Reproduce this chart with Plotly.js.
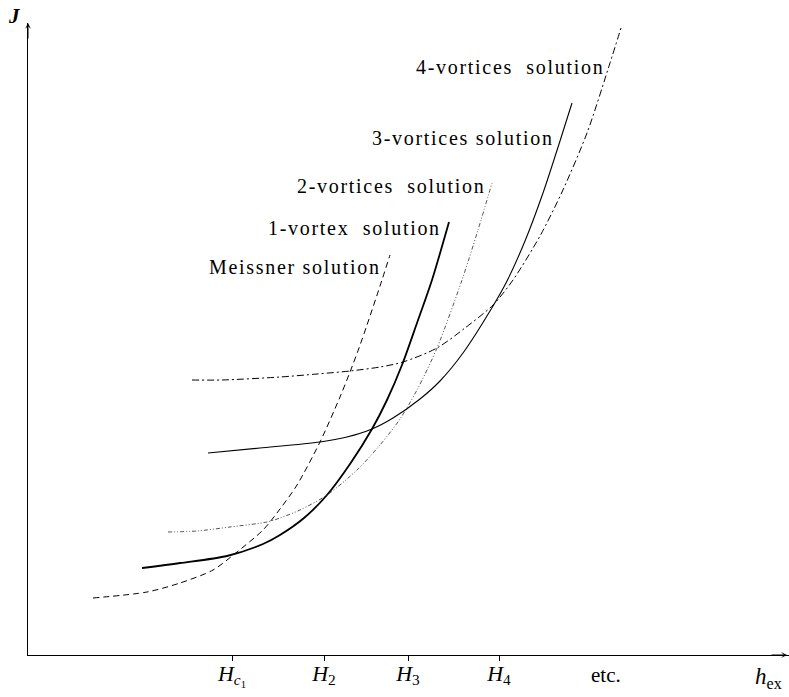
<!DOCTYPE html>
<html>
<head>
<meta charset="utf-8">
<script src="https://cdn.plot.ly/plotly-3.0.1.min.js"></script>
<style>html,body{margin:0;padding:0;background:#fff;}#chart{width:789px;height:697px;}</style>
</head>
<body>
<div id="chart"></div>
<script>
// Schematic values (h_ex on the horizontal axis, J on the vertical axis)
const meissnerH = [93,147,180,213,237,263,280,297,320,340,350,359,367,380,390];
const meissnerJ = [57,63,72,85,103,125,146,170,213,258,283,307,330,369,400];

const vortex1H = [142,180,227,263,280,304,327,350,372,387,402,417,432,449];
const vortex1J = [87,92,99,111,120,137,160,191,226,255,290,332,375,433];

const vortex2H = [168,197,230,267,280,300,327,357,380,400,417,437,462,478,492];
const vortex2J = [123,124,128,133,137,145,160,185,210,236,265,307,375,425,472];

const vortex3H = [208,260,320,347,372,393,420,440,463,493,507,525,543,560,572];
const vortex3J = [202,207,213,218,226,237,256,274,302,349,374,414,462,514,552];

const vortex4H = [192,222,280,317,350,380,403,437,465,493,513,540,562,587,610,621];
const vortex4J = [275,275,278,281,284,288,293,307,327,350,375,419,463,522,592,627];

const tickPositions = [232,324,408,499];
const tickLabels = ['<i>H</i><sub><i>c</i><sub>1</sub></sub>','<i>H</i><sub>2</sub>','<i>H</i><sub>3</sub>','<i>H</i><sub>4</sub>'];

const curveLabels = ['Meissner solution','1-vortex  solution','2-vortices  solution','3-vortices solution','4-vortices  solution'];
const curveLabelH = [383,443,487,556,606];
const curveLabelJ = [388,427,469,517,588];

const serif = 'Liberation Serif, Times New Roman, serif';

const traces = [
  {x: meissnerH, y: meissnerJ, mode:'lines', line:{color:'#000', width:1, dash:'6px,4px', shape:'spline', smoothing:0.8}},
  {x: vortex1H, y: vortex1J, mode:'lines', line:{color:'#000', width:1.8, shape:'spline', smoothing:0.8}},
  {x: vortex2H, y: vortex2J, mode:'lines', line:{color:'#555', width:1, dash:'4px,2px,1px,2px,1px,2px', shape:'spline', smoothing:0.8}},
  {x: vortex3H, y: vortex3J, mode:'lines', line:{color:'#000', width:1.1, shape:'spline', smoothing:0.8}},
  {x: vortex4H, y: vortex4J, mode:'lines', line:{color:'#000', width:1, dash:'7px,3px,2px,3px', shape:'spline', smoothing:0.8}}
];

const annotations = curveLabels.map((t,i)=>({
  x: curveLabelH[i], y: curveLabelJ[i], xref:'x', yref:'y',
  text: '<span style="letter-spacing:1.7px">'+t+'</span>',
  showarrow:false, xanchor:'right', yanchor:'middle',
  font:{family:serif, size:20, color:'#000'}
}));

// plot area: x 28..789 px, y 23..655 px
annotations.push(
  {x:787, y:0, ax:770, ay:0, xref:'x', yref:'y', axref:'x', ayref:'y', text:'', showarrow:true, arrowhead:3, arrowsize:1, arrowwidth:1, arrowcolor:'#000'},
  {x:28, y:632, ax:28, ay:615, xref:'x', yref:'y', axref:'x', ayref:'y', text:'', showarrow:true, arrowhead:3, arrowsize:1, arrowwidth:1, arrowcolor:'#000'},
  {x:(606-28)/761, y:(655-675)/632, xref:'paper', yref:'paper', text:'etc.', showarrow:false, xanchor:'center', yanchor:'middle', font:{family:serif, size:21, color:'#000'}},
  {x:(768-28)/761, y:(655-678)/632, xref:'paper', yref:'paper', text:'<i>h</i><sub>ex</sub>', showarrow:false, xanchor:'center', yanchor:'middle', font:{family:serif, size:23, color:'#000'}},
  {x:(14-28)/761, y:(655-16)/632, xref:'paper', yref:'paper', text:'<i><b>J</b></i>', showarrow:false, xanchor:'center', yanchor:'middle', font:{family:serif, size:21, color:'#000'}}
);

const layout = {
  width:789, height:697,
  margin:{l:28, r:0, t:23, b:42},
  paper_bgcolor:'#fff', plot_bgcolor:'#fff',
  showlegend:false,
  xaxis:{range:[28,789], showline:true, linecolor:'#000', linewidth:1.2, showgrid:false, zeroline:false,
         ticks:'outside', ticklen:5, tickcolor:'#000', tickwidth:1,
         tickvals:tickPositions, ticktext:tickLabels, ticklabelstandoff:-7,
         tickfont:{family:serif, size:22, color:'#000'}, fixedrange:true},
  yaxis:{range:[0,632], showline:true, linecolor:'#000', linewidth:1.2, showgrid:false, zeroline:false,
         showticklabels:false, ticks:'', fixedrange:true},
  annotations: annotations
};

Plotly.newPlot('chart', traces, layout, {displayModeBar:false, staticPlot:true});
</script>
</body>
</html>
